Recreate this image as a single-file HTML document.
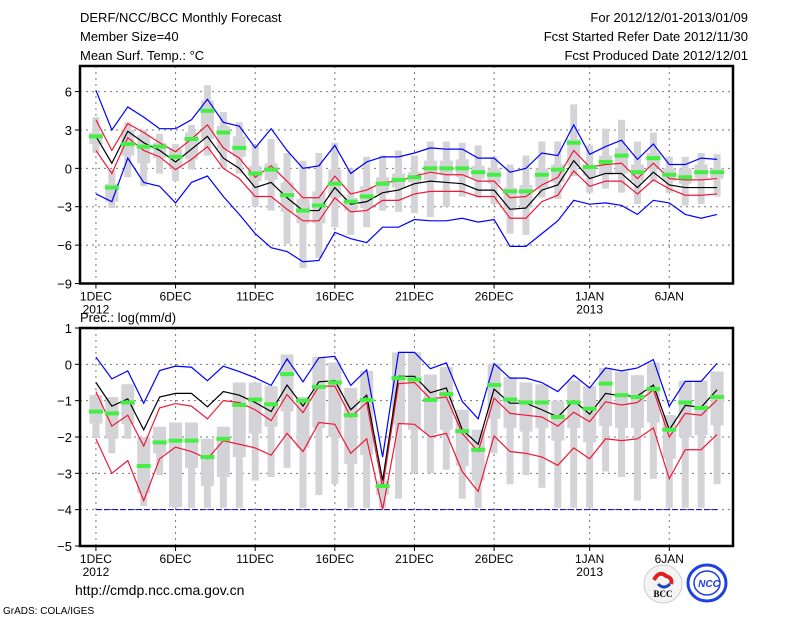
<!DOCTYPE html>
<html><head><meta charset="utf-8">
<style>
html,body{margin:0;padding:0;background:#fff;}
svg{display:block;font-family:"Liberation Sans",sans-serif;}
</style></head>
<body>
<svg id="chart" width="800" height="618" viewBox="0 0 800 618">
<g font-size="13" fill="#000">
<text x="80" y="22">DERF/NCC/BCC Monthly Forecast</text>
<text x="80" y="41">Member Size=40</text>
<text x="80" y="60">Mean Surf. Temp.: °C</text>
<text x="748" y="22" text-anchor="end">For 2012/12/01-2013/01/09</text>
<text x="748" y="41" text-anchor="end">Fcst Started Refer Date 2012/11/30</text>
<text x="748" y="60" text-anchor="end">Fcst Produced Date 2012/12/01</text>
<text x="80" y="322">Prec.: log(mm/d)</text>
<text x="75" y="595" font-size="14">http://cmdp.ncc.cma.gov.cn</text>
<text x="3" y="614" font-size="10">GrADS: COLA/IGES</text>
</g>
<g>
<circle cx="663" cy="584" r="19" fill="#f4f4f4" stroke="#ccc"/>
<path d="M654,580 q5,-10 12,-4 q7,2 5,8" stroke="#e02020" stroke-width="4" fill="none"/>
<path d="M658,584 q6,6 12,0" stroke="#2040c0" stroke-width="3" fill="none"/>
<text x="663" y="597" font-size="9" font-family="Liberation Serif,serif" font-weight="bold" text-anchor="middle">BCC</text>
</g>
<g>
<ellipse cx="707" cy="583" rx="19" ry="18" fill="#fff" stroke="#2040e0" stroke-width="3"/>
<ellipse cx="707" cy="583" rx="13" ry="12" fill="none" stroke="#2040e0" stroke-width="1.5"/>
<text x="709" y="587" font-size="10" font-weight="bold" fill="#2040e0" text-anchor="middle" font-style="italic">NCC</text>
</g>
<g id="top"></g>
<g id="bot"></g>
</svg>
<script>
// ---- Temperature data (40 days, 1DEC..9JAN) ----
const days = ["1DEC","2DEC","3DEC","4DEC","5DEC","6DEC","7DEC","8DEC","9DEC","10DEC","11DEC","12DEC","13DEC","14DEC","15DEC","16DEC","17DEC","18DEC","19DEC","20DEC","21DEC","22DEC","23DEC","24DEC","25DEC","26DEC","27DEC","28DEC","29DEC","30DEC","31DEC","1JAN","2JAN","3JAN","4JAN","5JAN","6JAN","7JAN","8JAN","9JAN"];
const xTickIdx = [0,5,10,15,20,25,31,36];
const xTickLab = ["1DEC","6DEC","11DEC","16DEC","21DEC","26DEC","1JAN","6JAN"];
const xTickYear = ["2012","","","","","","2013",""];
const tYTicks = [6,3,0,-3,-6,-9];
const tGreen = [2.5,-1.5,1.9,1.7,1.7,0.9,2.3,4.5,2.8,1.6,-0.4,-0.1,-2.1,-3.3,-2.9,-1.2,-2.6,-2.2,-1.2,-0.9,-0.7,0.0,0.0,0.0,-0.3,-0.5,-1.8,-1.8,-0.5,-0.1,2.0,0.1,0.5,1.0,-0.3,0.8,-0.5,-0.7,-0.3,-0.3];
const tGrayLo = [1.2,-3.1,-0.7,-1.4,-0.4,-1.0,-0.1,1.0,0.0,-0.4,-3.0,-3.3,-5.9,-7.8,-7.0,-4.6,-5.2,-4.6,-3.3,-3.4,-3.5,-3.8,-3.0,-2.2,-2.3,-2.8,-5.1,-5.2,-2.3,-2.4,-0.6,-1.9,-1.6,-1.9,-2.8,-1.0,-1.9,-2.9,-2.8,-2.2];
const tGrayHi = [4.0,-0.1,3.6,3.0,2.7,1.9,3.4,6.5,4.4,3.6,1.8,2.3,1.2,0.6,1.2,2.0,0.0,0.9,1.0,1.4,1.0,2.1,2.1,2.0,1.8,0.9,0.3,1.0,2.1,2.1,5.0,1.8,3.1,3.8,2.1,2.8,0.9,0.9,1.2,1.1];
const tBoxLo = [1.9,-2.6,1.0,0.4,0.8,0.0,0.7,2.3,1.5,0.9,-1.0,-0.9,-3.4,-4.3,-4.3,-2.3,-3.3,-3.1,-2.0,-1.5,-1.1,-0.9,-0.5,-0.7,-0.8,-1.2,-3.2,-3.0,-1.5,-1.1,0.2,-0.6,-0.5,-0.4,-1.0,0.0,-1.0,-1.2,-0.8,-0.8];
const tBoxHi = [2.8,-1.2,3.0,2.6,2.0,1.5,2.8,5.3,3.3,2.5,0.2,0.4,-1.1,-2.4,-1.8,-0.1,-2.3,-1.4,-0.7,-0.4,-0.3,0.6,0.6,0.7,0.2,0.0,-1.5,-1.3,0.0,0.3,2.3,0.3,1.0,1.6,0.3,1.2,0.0,0.0,0.3,0.0];
const tMean = [2.5,0.4,2.9,2.0,1.4,0.5,1.5,2.5,0.8,0.0,-1.5,-1.1,-2.3,-3.3,-3.3,-1.5,-2.8,-2.6,-1.9,-1.7,-1.2,-1.0,-1.1,-1.2,-1.7,-1.7,-3.2,-3.1,-1.7,-1.3,0.6,-0.8,-0.4,-0.4,-1.5,-0.3,-1.3,-1.5,-1.5,-1.5];
const tRedHi = [3.8,1.4,3.5,2.8,2.0,1.3,2.3,3.4,1.6,0.8,-0.7,0.2,-1.0,-2.3,-2.3,-0.6,-2.0,-1.7,-1.1,-1.0,-0.6,-0.3,-0.5,-0.5,-1.0,-1.0,-2.3,-2.2,-1.3,-0.7,1.4,0.1,0.3,0.4,-0.8,0.4,-0.8,-0.9,-0.9,-0.8];
const tRedLo = [1.4,-0.4,2.4,1.4,0.9,-0.1,0.7,1.7,0.0,-0.8,-2.2,-2.2,-3.2,-4.1,-4.1,-2.3,-3.4,-3.3,-2.5,-2.5,-2.0,-1.8,-1.8,-1.8,-2.2,-2.2,-3.9,-3.9,-2.6,-2.1,-0.2,-1.4,-1.0,-1.0,-2.0,-0.9,-1.6,-2.1,-2.1,-2.0];
const tBlueHi = [6.1,3.0,4.8,4.0,3.1,3.1,3.8,5.4,3.6,3.3,1.6,3.1,1.4,0.0,0.2,1.8,-0.4,0.5,0.9,0.9,1.2,1.6,1.5,1.5,0.8,0.8,-0.3,0.0,1.2,1.0,3.4,1.1,1.7,2.2,0.7,1.9,0.3,0.3,0.8,0.7];
const tBlueLo = [-2.0,-2.6,0.8,-1.1,-1.4,-2.7,-1.1,-0.6,-2.2,-3.6,-5.1,-6.2,-6.5,-7.3,-7.2,-5.0,-5.5,-5.8,-4.6,-4.6,-4.0,-4.1,-4.1,-3.9,-4.2,-4.0,-6.1,-6.1,-5.1,-4.1,-2.5,-2.8,-2.7,-2.9,-3.6,-2.5,-2.7,-3.6,-3.9,-3.6];
// ---- Precipitation data ----
const pYTicks = [1,0,-1,-2,-3,-4,-5];
const pGreen = [-1.3,-1.35,-1.05,-2.8,-2.15,-2.1,-2.1,-2.55,-2.05,-1.12,-0.97,-1.1,-0.27,-1.0,-0.62,-0.5,-1.4,-0.98,-3.35,-0.38,-0.42,-0.98,-0.82,-1.84,-2.35,-0.57,-0.97,-1.05,-1.05,-1.45,-1.05,-1.22,-0.53,-0.85,-0.9,-0.68,-1.8,-1.05,-1.2,-0.9];
const pGrayLo = [-2.0,-2.45,-2.05,-3.9,-3.05,-3.95,-3.95,-3.95,-3.95,-3.95,-3.2,-3.1,-2.85,-3.95,-3.6,-3.3,-3.95,-3.95,-3.95,-3.7,-3.0,-3.0,-2.9,-3.7,-3.95,-2.45,-3.3,-3.05,-3.4,-3.95,-3.95,-3.95,-2.95,-3.1,-3.75,-3.15,-3.95,-3.95,-3.95,-3.3];
const pGrayHi = [-0.85,-0.9,-0.55,-2.0,-1.72,-1.6,-1.6,-2.05,-1.72,-0.5,-0.5,-0.6,0.27,-0.9,0.2,0.05,-0.65,-0.18,-3.2,0.33,0.33,-0.28,-0.08,-1.25,-1.8,0.02,-0.35,-0.5,-0.55,-1.0,-0.45,-0.6,-0.1,-0.2,-0.3,0.05,-1.4,-0.45,-0.45,-0.2];
const pBoxLo = [-1.63,-2.05,-1.65,-3.55,-2.45,-3.92,-2.85,-3.35,-3.1,-2.55,-1.9,-1.72,-1.3,-2.3,-1.75,-2.0,-2.75,-2.5,-3.6,-1.65,-1.8,-1.9,-1.8,-2.8,-3.2,-1.5,-1.75,-1.85,-1.75,-2.1,-1.75,-2.15,-1.7,-1.75,-1.75,-1.6,-2.6,-2.0,-1.95,-1.68];
const pBoxHi = pGrayHi;
const pMean = [-0.5,-1.15,-0.95,-1.8,-0.9,-0.8,-0.8,-1.17,-0.75,-0.85,-1.05,-1.3,-0.57,-1.15,-0.48,-0.45,-1.25,-0.85,-3.2,-0.33,-0.33,-0.78,-0.65,-1.8,-2.2,-0.68,-1.07,-1.07,-1.25,-1.45,-1.0,-1.37,-0.8,-0.87,-0.87,-0.57,-1.8,-1.13,-1.18,-0.7];
const pRedHi = [-0.75,-1.7,-1.4,-2.25,-1.2,-1.08,-1.15,-1.5,-1.0,-1.05,-1.25,-1.55,-0.83,-1.33,-0.6,-0.6,-1.45,-1.05,-3.4,-0.53,-0.5,-0.95,-0.9,-1.9,-2.4,-0.93,-1.35,-1.4,-1.45,-1.7,-1.32,-1.58,-1.03,-1.12,-1.05,-0.7,-2.0,-1.35,-1.4,-0.98];
const pRedLo = [-2.05,-3.0,-2.65,-3.75,-2.6,-2.28,-2.4,-2.6,-2.1,-2.2,-2.3,-2.5,-1.9,-2.4,-1.6,-1.65,-2.45,-2.05,-4.0,-1.63,-1.65,-2.0,-1.9,-2.95,-3.5,-1.97,-2.4,-2.45,-2.55,-2.78,-2.3,-2.6,-2.05,-2.1,-2.05,-1.75,-3.15,-2.35,-2.35,-1.93];
const pBlueHi = [0.2,-0.4,-0.18,-1.07,-0.17,-0.05,-0.08,-0.45,-0.05,-0.2,-0.37,-0.58,0.15,-0.48,0.18,0.22,-0.58,-0.15,-2.55,0.33,0.33,-0.12,0.04,-1.02,-1.5,0.02,-0.38,-0.38,-0.5,-0.75,-0.3,-0.65,-0.1,-0.18,-0.1,0.13,-1.15,-0.47,-0.47,0.03];
const pFloor = -4;

const NS = "http://www.w3.org/2000/svg";
function mk(tag, attrs, parent){const e=document.createElementNS(NS,tag);for(const k in attrs)e.setAttribute(k,attrs[k]);parent.appendChild(e);return e;}

function panel(g, opt){
  const x0=80,x1=733,y0=opt.top,y1=opt.bottom;
  const xs = i => x0 + (i+1)*(x1-x0)/41;
  const ys = v => y0 + (opt.ymax-v)*(y1-y0)/(opt.ymax-opt.ymin);
  // grid
  opt.yTicks.forEach(v=>{
    if(v>opt.ymin && v<opt.ymax){
      const l=mk('line',{x1:x0,x2:x1,y1:ys(v),y2:ys(v),stroke:'#777','stroke-dasharray':'2,4','stroke-width':1},g);
      
      
    }
    const t=mk('text',{x:x0-8,y:ys(v)+5,'text-anchor':'end','font-size':13},g);
    t.textContent = (v<0?'\u2212'+(-v):String(v));
    
    
    mk('line',{x1:x0-5,x2:x0,y1:ys(v),y2:ys(v),stroke:'#000'},g);
  });
  xTickIdx.forEach((d,k)=>{
    const l=mk('line',{x1:xs(d),x2:xs(d),y1:y0,y2:y1,stroke:'#777','stroke-dasharray':'2,4','stroke-width':1},g);
    
    
    mk('line',{x1:xs(d),x2:xs(d),y1:y1,y2:y1+5,stroke:'#000'},g);
    const t=mk('text',{x:xs(d),y:y1+17,'text-anchor':'middle','font-size':12},g);
    t.textContent=xTickLab[k];
    
    
    if(xTickYear[k]){
      const t2=mk('text',{x:xs(d),y:y1+30,'text-anchor':'middle','font-size':12},g);
      t2.textContent=xTickYear[k];
      
      
    }
  });
  if(opt.floor!==undefined){
    const l=mk('line',{x1:xs(0),x2:xs(days.length-1),y1:ys(opt.floor),y2:ys(opt.floor),stroke:'#0000c0','stroke-dasharray':'6,2','stroke-width':1},g);
    
    
  }
  // gray boxes
  days.forEach((d,i)=>{
    const a=ys(opt.gHi[i]),b=ys(opt.gLo[i]);
    const r=mk('rect',{x:xs(i)-3.5,y:a,width:7,height:Math.max(1,b-a),fill:'#d4d4d8'},g);
    
    
    const c=ys(opt.bHi[i]),e=ys(opt.bLo[i]);
    const r2=mk('rect',{x:xs(i)-6.5,y:c,width:13,height:Math.max(1,e-c),fill:'#d4d4d8'},g);
    
    
  });
  // lines
  opt.lines.forEach(([arr,col,nm])=>{
    const p=mk('polyline',{points:arr.map((v,i)=>xs(i)+','+ys(v)).join(' '),fill:'none',stroke:col,'stroke-width':1.2},g);
    
    
  });
  // green markers
  days.forEach((d,i)=>{
    const r=mk('rect',{x:xs(i)-7,y:ys(opt.green[i])-2,width:14,height:4,fill:'#44ee44'},g);
    
    
  });
  const fr=mk('rect',{x:x0,y:y0,width:x1-x0,height:y1-y0,fill:'none',stroke:'#000','stroke-width':2.5},g);
  
  
}
panel(document.getElementById('top'),{top:66,bottom:283.5,ymax:8,ymin:-9,yTicks:tYTicks,
  gLo:tGrayLo,gHi:tGrayHi,bLo:tBoxLo,bHi:tBoxHi,green:tGreen,
  lines:[[tBlueHi,'#0000ff','blue-upper-line'],[tBlueLo,'#0000ff','blue-lower-line'],[tRedHi,'#f01838','red-upper-line'],[tRedLo,'#f01838','red-lower-line'],[tMean,'#000','ensemble-mean-line']]});
panel(document.getElementById('bot'),{top:328,bottom:546,ymax:1,ymin:-5,yTicks:pYTicks,floor:pFloor,
  gLo:pGrayLo,gHi:pGrayHi,bLo:pBoxLo,bHi:pBoxHi,green:pGreen,
  lines:[[pBlueHi,'#0000ff','blue-upper-line'],[pRedHi,'#f01838','red-upper-line'],[pRedLo,'#f01838','red-lower-line'],[pMean,'#000','ensemble-mean-line']]});
</script>
</body></html>
